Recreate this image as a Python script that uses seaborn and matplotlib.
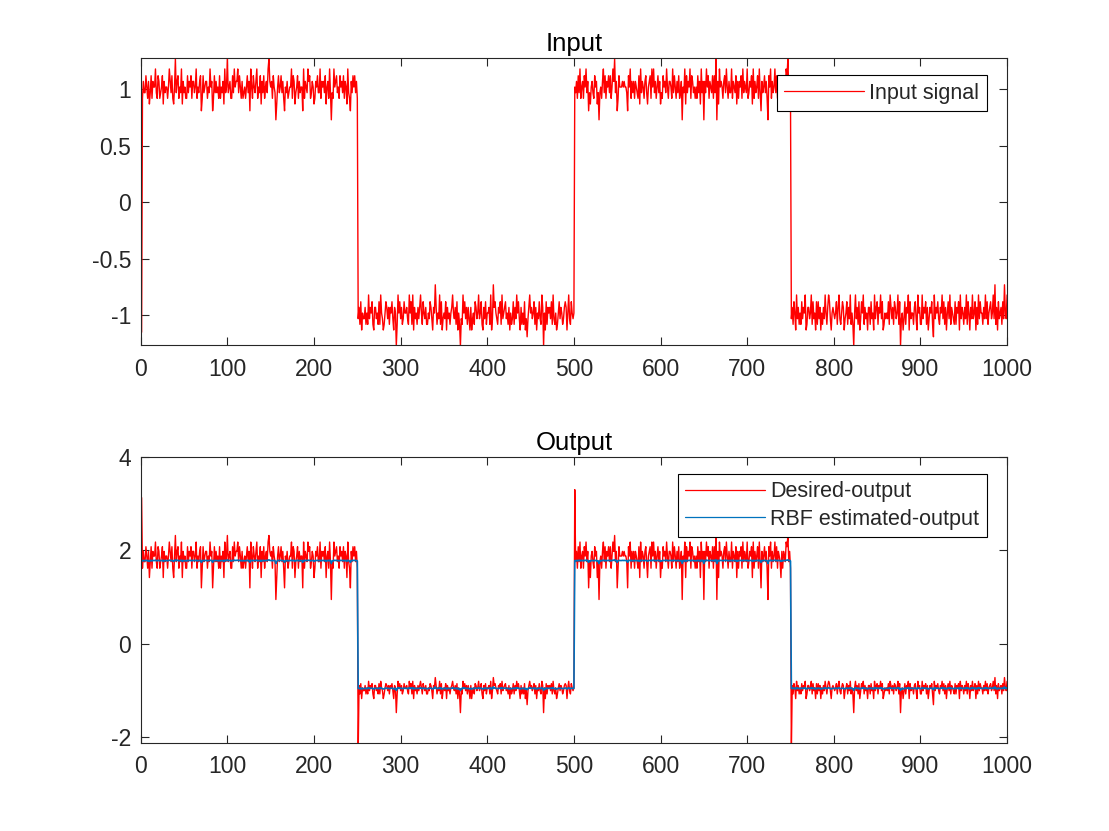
import numpy as np
import pandas as pd
import matplotlib
matplotlib.use("Agg")
import matplotlib.pyplot as plt
import seaborn as sns

# ---------------------------------------------------------------------------
# data (4 segments of 250 samples each)
# ---------------------------------------------------------------------------
n_per_segment = 250
input_levels = [1.0, -1.0, 1.0, -1.0]
desired_levels = [1.8, -0.97, 1.8, -0.97]
rbf_levels = [1.78, -0.955, 1.78, -0.955]

# per-sample noise code (digit 0..9), one string per segment
noise_codes = [
    """5364475362 4736558437 6345726455 3586473259 4673548264
       5337465736 6458354671 3745663548 5613746453 7354628459
       4563374856 6847536345 3574618537 5468354726 4735648965
       6375402574 5746315463 4558376245 7364551836 5486734652
       3657448365 6472563840 4385674537 5647365284 3164757463""",
    """4637254463 5384657326 6453738542 3576463657 4265038574
       6347556438 5738264536 4685375463 3547642659 6354837245
       4726453568 5463725304 3857463642 6245376458 4573264735
       5638249675 4365738456 7453625347 3648574263 5372414685
       6457362547 4386052736 5647384352 3574653467 6258437545""",
    """5463748356 3758461425 6437562404 5368473657 4735869461
       3755565655 4175836463 6543728465 3674256738 5846357462
       4375648536 6538475364 7346054827 4658376453 5374628460
       6485736547 3749062856 5367485364 4836547263 6573846548
       3465728364 5738416457 4630758364 5847365426 3654879463""",
    """4637528463 5374658236 6458374527 3746253648 5368742565
       4573684357 6245736483 5305846372 4758364526 6374528467
       3658472354 5473864637 6458370452 4736582745 5367428563
       3846573624 6573184657 4365847362 5748365437 3657284653
       6483752648 4572638475 5364847356 7458493627 4563749548""",
]

# value offset for each code digit
input_offsets = [-0.27, -0.19, -0.13, -0.08, -0.03, 0.02, 0.07, 0.12, 0.18, 0.27]
desired_hi_offsets = [-0.85, -0.60, -0.38, -0.18, -0.04, 0.08, 0.18, 0.28, 0.38, 0.52]
desired_lo_offsets = [-0.50, -0.33, -0.20, -0.10, -0.03, 0.03, 0.08, 0.12, 0.17, 0.25]
rbf_hi_offsets = [-0.06, -0.035, -0.015, -0.005, 0.0, 0.004, 0.008, 0.01, 0.013, 0.02]
rbf_lo_offsets = [-0.04, -0.025, -0.012, -0.004, 0.0, 0.004, 0.008, 0.012, 0.02, 0.035]

# isolated samples at the switching instants
input_special_idx = [1]
input_special_val = [-1.15]
desired_special_idx = [1, 251, 501, 751]
desired_special_val = [3.13, -2.3, 3.30, -2.3]

x_ticks = list(range(0, 1001, 100))
input_yticks = [-1, -0.5, 0, 0.5, 1]
output_yticks = [-2, 0, 2, 4]


def build(levels, hi_table, lo_table):
    values = []
    for code, level in zip(noise_codes, levels):
        digits = [int(c) for c in code if c.isdigit()]
        assert len(digits) == n_per_segment, len(digits)
        table = hi_table if level > 0 else lo_table
        values.extend(level + table[d] for d in digits)
    return np.array(values)


sample = np.arange(1, 4 * n_per_segment + 1)
u = build(input_levels, input_offsets, input_offsets)
d = build(desired_levels, desired_hi_offsets, desired_lo_offsets)
r = build(rbf_levels, rbf_hi_offsets, rbf_lo_offsets)
for i, v in zip(input_special_idx, input_special_val):
    u[i - 1] = v
for i, v in zip(desired_special_idx, desired_special_val):
    d[i - 1] = v

df = pd.DataFrame({"sample": sample, "input": u, "desired": d, "rbf": r})

# ---------------------------------------------------------------------------
# style
# ---------------------------------------------------------------------------
sns.set_style("ticks")
dark = "#262626"
plt.rcParams.update({
    "font.family": ["Liberation Sans", "DejaVu Sans"],
    "axes.unicode_minus": False,
    "axes.edgecolor": dark,
    "axes.linewidth": 0.8,
    "xtick.color": dark,
    "ytick.color": dark,
    "xtick.direction": "in",
    "ytick.direction": "in",
    "xtick.top": True,
    "ytick.right": True,
    "xtick.major.size": 6,
    "ytick.major.size": 6,
    "xtick.major.width": 0.8,
    "ytick.major.width": 0.8,
    "xtick.labelsize": 16.5,
    "ytick.labelsize": 16.5,
})

fig = plt.figure(figsize=(11.09, 8.31), dpi=100)
ax1 = fig.add_axes([0.1269, 0.5848, 0.7812, 0.3454])
ax2 = fig.add_axes([0.1269, 0.1059, 0.7812, 0.3442])

sns.lineplot(data=df, x="sample", y="input", ax=ax1, color="#FF0000",
             linewidth=1.0, label="Input signal", errorbar=None)
sns.lineplot(data=df, x="sample", y="desired", ax=ax2, color="#FF0000",
             linewidth=1.0, label="Desired-output", errorbar=None)
sns.lineplot(data=df, x="sample", y="rbf", ax=ax2, color="#0072BD",
             linewidth=1.2, label="RBF estimated-output", errorbar=None)

for ax, title, yticks, ylim in [
    (ax1, "Input", input_yticks, (-1.263, 1.277)),
    (ax2, "Output", output_yticks, (-2.12, 4.0)),
]:
    ax.set_xlim(0, 1000)
    ax.set_ylim(*ylim)
    ax.set_xticks(x_ticks)
    ax.set_yticks(yticks)
    ax.set_yticklabels([f"{t:g}" for t in yticks])
    ax.set_xlabel("")
    ax.set_ylabel("")
    ax.set_title(title, fontsize=18.5, color="black", pad=5)
    ax.tick_params(axis="x", pad=9)
    ax.tick_params(axis="y", pad=7)
    for s in ax.spines.values():
        s.set_visible(True)
        s.set_color(dark)
    leg = ax.legend(loc="upper right", bbox_to_anchor=(0.9766, 0.9408),
                    borderaxespad=0, fontsize=15.5, fancybox=False,
                    framealpha=1, edgecolor="black", handlelength=3.7,
                    handletextpad=0.25, labelspacing=0.3, borderpad=0.35)
    leg.get_frame().set_linewidth(0.8)
    for line in leg.get_lines():
        line.set_linewidth(0.9)

fig.savefig("out.png", dpi=100, facecolor="white")
